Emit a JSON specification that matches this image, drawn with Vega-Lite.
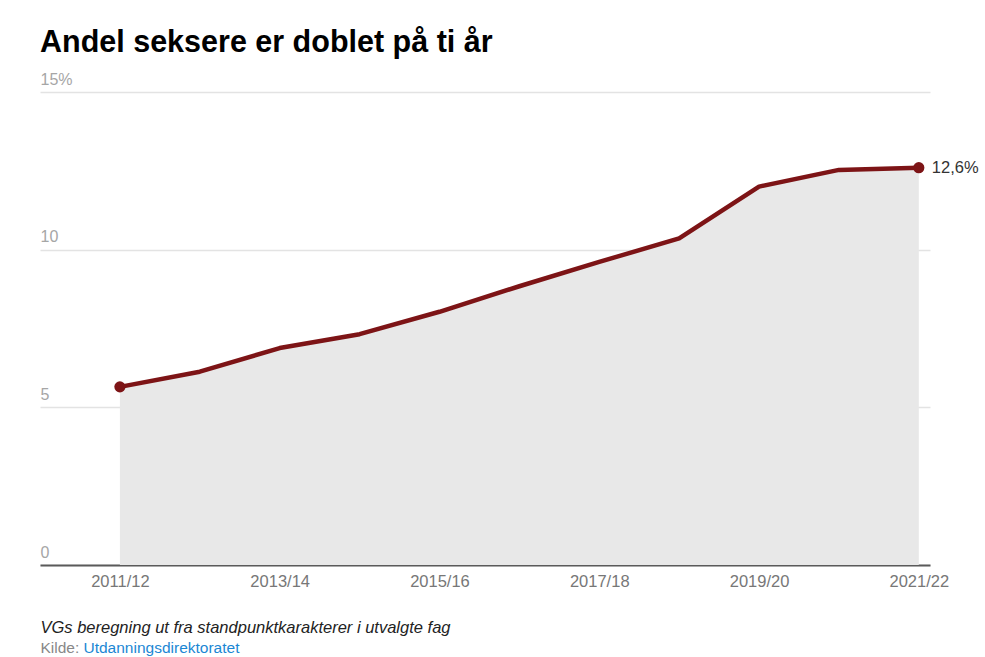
{
  "$schema": "https://vega.github.io/schema/vega-lite/v6.json",
  "width": 890,
  "height": 473,
  "autosize": {"type": "none"},
  "padding": {"left": 40, "top": 92, "right": 55, "bottom": 92},
  "background": "white",
  "config": {"font": "Liberation Sans", "view": {"stroke": null}},
  "title": {
    "text": "Andel seksere er doblet på ti år",
    "anchor": "start",
    "frame": "group",
    "fontSize": 30.5,
    "fontWeight": "bold",
    "color": "#000000",
    "font": "Liberation Sans",
    "offset": 13
  },
  "data": {
    "values": [
      {"start": 2011, "sesong": "2011/12", "andel": 5.65, "etikett": ""},
      {"start": 2012, "sesong": "2012/13", "andel": 6.13, "etikett": ""},
      {"start": 2013, "sesong": "2013/14", "andel": 6.88, "etikett": ""},
      {"start": 2014, "sesong": "2014/15", "andel": 7.32, "etikett": ""},
      {"start": 2015, "sesong": "2015/16", "andel": 8.03, "etikett": ""},
      {"start": 2016, "sesong": "2016/17", "andel": 8.84, "etikett": ""},
      {"start": 2017, "sesong": "2017/18", "andel": 9.61, "etikett": ""},
      {"start": 2018, "sesong": "2018/19", "andel": 10.36, "etikett": ""},
      {"start": 2019, "sesong": "2019/20", "andel": 12.0, "etikett": ""},
      {"start": 2020, "sesong": "2020/21", "andel": 12.53, "etikett": ""},
      {"start": 2021, "sesong": "2021/22", "andel": 12.6, "etikett": "12,6%"}
    ]
  },
  "encoding": {
    "x": {
      "field": "start",
      "type": "quantitative",
      "scale": {"domain": [2010, 2021.14], "nice": false, "zero": false},
      "axis": {
        "values": [2011, 2013, 2015, 2017, 2019, 2021],
        "labelExpr": "datum.value + '/' + substring(toString(datum.value + 1), 2, 4)",
        "grid": false,
        "ticks": false,
        "tickSize": 0,
        "domainColor": "#5a5a5a",
        "domainWidth": 2,
        "labelFontSize": 16.5,
        "labelColor": "#777777",
        "labelPadding": 8,
        "labelFlush": false,
        "labelOverlap": false,
        "title": "VGs beregning ut fra standpunktkarakterer i utvalgte fag",
        "titleX": 0,
        "titleY": 67,
        "titleAlign": "left",
        "titleAnchor": "start",
        "titleBaseline": "alphabetic",
        "titleFontStyle": "italic",
        "titleFontWeight": "normal",
        "titleFontSize": 16.5,
        "titleColor": "#222222"
      }
    }
  },
  "layer": [
    {
      "mark": {"type": "area", "color": "#e8e8e8", "opacity": 1},
      "encoding": {
        "y": {
          "field": "andel",
          "type": "quantitative",
          "scale": {"domain": [0, 15], "nice": false},
          "axis": {
            "values": [0, 5, 10, 15],
            "grid": true,
            "gridColor": "#e3e3e3",
            "gridWidth": 1.3,
            "domain": false,
            "ticks": false,
            "tickSize": 0,
            "labelAlign": "left",
            "labelBaseline": "alphabetic",
            "labelPadding": 0,
            "labelOffset": -8,
            "labelFontSize": 16,
            "labelColor": "#a6a6a6",
            "labelExpr": "datum.value == 15 ? '15%' : datum.label",
            "title": "Kilde:",
            "titleAngle": 0,
            "titleX": 0,
            "titleY": 560,
            "titleAlign": "left",
            "titleBaseline": "alphabetic",
            "titleFontSize": 15.5,
            "titleFontWeight": "normal",
            "titleColor": "#888888"
          }
        }
      }
    },
    {
      "mark": {"type": "line", "color": "#7d1416", "strokeWidth": 4.5, "strokeJoin": "round", "strokeCap": "round"},
      "encoding": {
        "y": {"field": "andel", "type": "quantitative", "axis": null}
      }
    },
    {
      "transform": [{"filter": "datum.start == 2011 || datum.start == 2021"}],
      "mark": {"type": "point", "filled": true, "size": 125, "color": "#7d1416", "opacity": 1},
      "encoding": {
        "y": {"field": "andel", "type": "quantitative", "axis": null}
      }
    },
    {
      "transform": [{"filter": "datum.start == 2021"}],
      "mark": {"type": "text", "align": "left", "baseline": "middle", "dx": 13, "fontSize": 16.5, "color": "#333333"},
      "encoding": {
        "y": {
          "field": "andel",
          "type": "quantitative",
          "axis": {
            "orient": "right",
            "labels": false,
            "ticks": false,
            "domain": false,
            "grid": false,
            "title": "Utdanningsdirektoratet",
            "titleAngle": 0,
            "titleX": -847,
            "titleY": 560,
            "titleAlign": "left",
            "titleBaseline": "alphabetic",
            "titleFontSize": 15.5,
            "titleFontWeight": "normal",
            "titleColor": "#1b87d4"
          }
        },
        "text": {"field": "etikett"}
      }
    }
  ],
  "resolve": {"axis": {"y": "independent"}}
}
